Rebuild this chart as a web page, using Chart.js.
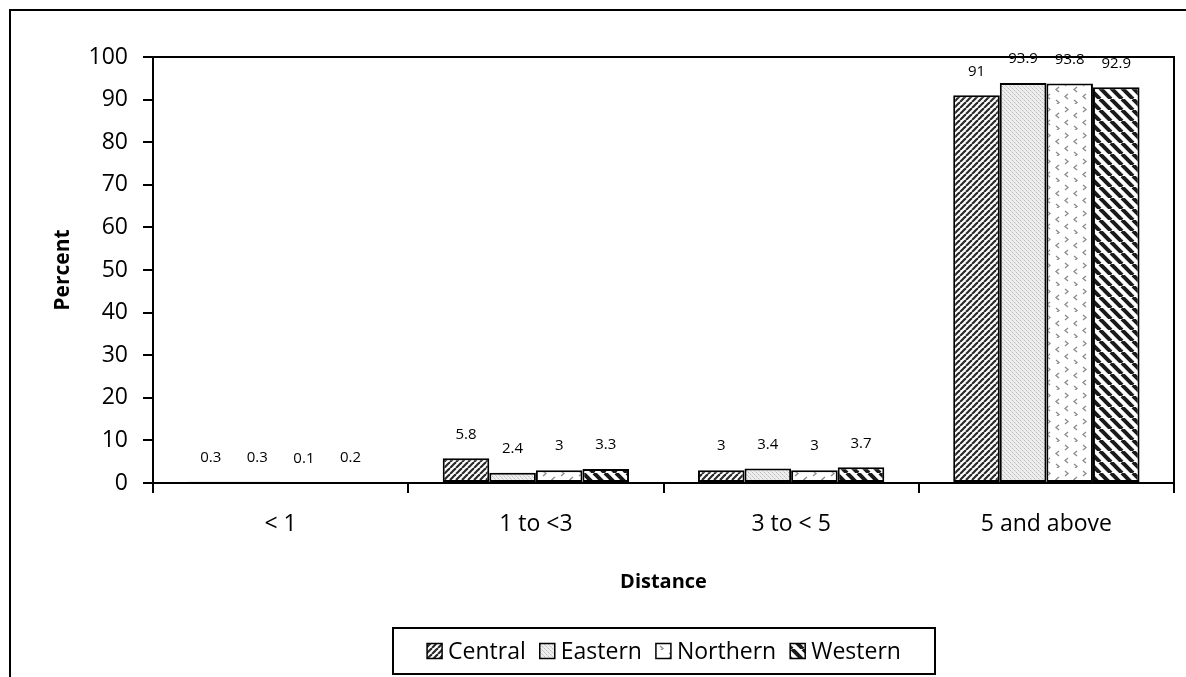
<!DOCTYPE html>
<html>
<head>
<meta charset="utf-8">
<script src="https://cdn.jsdelivr.net/npm/chart.js@4.4.0/dist/chart.umd.min.js"></script>
<style>
  html, body { margin:0; padding:0; background:#fff; }
  #wrap { width:1186px; height:677px; }
</style>
</head>
<body>
<div id="wrap"><canvas id="bar" width="1186" height="677"></canvas></div>
<script>
// ---------- DATA ----------
const categories = ["< 1", "1 to <3", "3 to < 5", "5 and above"];
const central  = [0.3, 5.8, 3, 91];
const eastern  = [0.3, 2.4, 3.4, 93.9];
const northern = [0.1, 3, 3, 93.8];
const western  = [0.2, 3.3, 3.7, 92.9];
const regionNames = ["Central", "Eastern", "Northern", "Western"];
const yTicks = [0, 10, 20, 30, 40, 50, 60, 70, 80, 90, 100];

const FONT = "'Open Sans', sans-serif";

// ---------- PATTERNS ----------
function makeTile(w, h, draw){
    const c = document.createElement("canvas");
    c.width = w; c.height = h;
    const g = c.getContext("2d");
    draw(g, w, h);
    return g.createPattern(c, "repeat");
}

const patCentral = makeTile(6, 6, (g, w, h) => {
    g.fillStyle = "#fff"; g.fillRect(0, 0, w, h);
    g.strokeStyle = "#2a2a2a"; g.lineWidth = 2.2;
    for (let k = -1; k <= 1; k++){
        g.beginPath(); g.moveTo(k*w, h); g.lineTo(k*w + w, 0); g.stroke();
    }
});

const patEastern = makeTile(4, 4, (g, w, h) => {
    g.fillStyle = "#eeeeee"; g.fillRect(0, 0, w, h);
    g.fillStyle = "#bdbdbd";
    g.fillRect(0, 0, 1, 1); g.fillRect(2, 2, 1, 1);
    g.fillStyle = "#d4d4d4";
    g.fillRect(1, 1, 1, 1); g.fillRect(3, 3, 1, 1);
});

const patNorthern = makeTile(18, 26, (g, w, h) => {
    g.fillStyle = "#fff"; g.fillRect(0, 0, w, h);
    g.strokeStyle = "#8c8c8c"; g.lineWidth = 1.3;
    function gt(x, y){ g.beginPath(); g.moveTo(x, y); g.lineTo(x+3, y+2.5); g.lineTo(x, y+5); g.stroke(); }
    function lt(x, y){ g.beginPath(); g.moveTo(x+3, y); g.lineTo(x, y+2.5); g.lineTo(x+3, y+5); g.stroke(); }
    gt(3, 3); lt(12, 9); lt(3, 16); gt(12, 22);
});

const patWestern = makeTile(11, 11, (g, w, h) => {
    g.fillStyle = "#fff"; g.fillRect(0, 0, w, h);
    g.strokeStyle = "#1a1a1a"; g.lineWidth = 4;
    for (let k = -1; k <= 1; k++){
        g.beginPath(); g.moveTo(k*w, 0); g.lineTo(k*w + w, h); g.stroke();
    }
});

const patterns = [patCentral, patEastern, patNorthern, patWestern];

// ---------- PLUGINS ----------
const framePlugin = {
    id: "frame",
    beforeDraw(chart){
        const ctx = chart.ctx;
        ctx.save();
        ctx.fillStyle = "#fff";
        ctx.fillRect(0, 0, chart.width, chart.height);
        ctx.strokeStyle = "#000"; ctx.lineWidth = 2;
        ctx.beginPath();
        ctx.moveTo(10, chart.height + 2);
        ctx.lineTo(10, 10);
        ctx.lineTo(chart.width + 2, 10);
        ctx.stroke();
        ctx.restore();
    },
    afterDatasetsDraw(chart){
        const ctx = chart.ctx;
        ctx.save();
        ctx.font = "15px " + FONT;
        ctx.fillStyle = "#000";
        ctx.textAlign = "center";
        ctx.textBaseline = "middle";
        chart.data.datasets.forEach((ds, i) => {
            chart.getDatasetMeta(i).data.forEach((bar, j) => {
                ctx.fillText(String(ds.data[j]), bar.x, bar.y - 24);
            });
        });
        ctx.restore();
    },
    afterDraw(chart){
        const ctx = chart.ctx;
        const a = chart.chartArea;
        ctx.save();
        ctx.strokeStyle = "#000"; ctx.lineWidth = 2;
        ctx.strokeRect(a.left, a.top, a.right - a.left, a.bottom - a.top);

        // legend
        ctx.font = "23px " + FONT;
        ctx.textBaseline = "middle";
        const sq = 15, gap = 6, sep = 14;
        let total = 0;
        const widths = regionNames.map(n => ctx.measureText(n).width);
        widths.forEach((w, i) => { total += sq + gap + w + (i < widths.length - 1 ? sep : 0); });
        const boxL = 393, boxR = 935, boxT = 628, boxB = 674;
        ctx.strokeRect(boxL, boxT, boxR - boxL, boxB - boxT);
        let x = (boxL + boxR) / 2 - total / 2;
        const cy = (boxT + boxB) / 2;
        regionNames.forEach((n, i) => {
            ctx.fillStyle = patterns[i];
            ctx.fillRect(x, cy - sq/2, sq, sq);
            ctx.lineWidth = 1.5;
            ctx.strokeRect(x, cy - sq/2, sq, sq);
            ctx.fillStyle = "#000";
            ctx.textAlign = "left";
            ctx.fillText(n, x + sq + gap, cy + 1);
            x += sq + gap + widths[i] + sep;
        });
        ctx.restore();
    }
};

// ---------- CHART ----------
const datasets = [central, eastern, northern, western].map((vals, i) => ({
    label: regionNames[i],
    data: vals,
    backgroundColor: patterns[i],
    borderColor: "#000",
    borderWidth: 2,
    borderSkipped: false
}));

new Chart(document.getElementById("bar"), {
    type: "bar",
    data: { labels: categories, datasets: datasets },
    options: {
        responsive: false,
        animation: false,
        devicePixelRatio: 1,
        categoryPercentage: 0.73,
        barPercentage: 1,
        layout: { padding: { left: 50, right: 12, top: 57, bottom: 77 } },
        plugins: {
            legend: { display: false },
            tooltip: { enabled: false }
        },
        scales: {
            x: {
                grid: { drawOnChartArea: false, offset: true, tickLength: 10, color: "#000", lineWidth: 2 },
                border: { display: true, color: "#000", width: 2 },
                ticks: { color: "#000", font: { family: FONT, size: 23 }, padding: 18 },
                title: { display: true, text: "Distance", color: "#000",
                         font: { family: FONT, size: 20, weight: "bold" }, padding: { top: 0, bottom: 6 } },
                afterFit(s){ s.height = 117; }
            },
            y: {
                min: 0, max: 100,
                afterBuildTicks(s){ s.ticks = yTicks.map(v => ({ value: v })); },
                grid: { drawOnChartArea: false, tickLength: 10, color: "#000", lineWidth: 2 },
                border: { display: true, color: "#000", width: 2 },
                ticks: { color: "#000", font: { family: FONT, size: 23 }, padding: 15 },
                title: { display: true, text: "Percent", color: "#000",
                         font: { family: FONT, size: 21, weight: "bold" }, padding: 0 },
                afterFit(s){ s.width = 103; }
            }
        }
    },
    plugins: [framePlugin]
});
</script>
</body>
</html>
